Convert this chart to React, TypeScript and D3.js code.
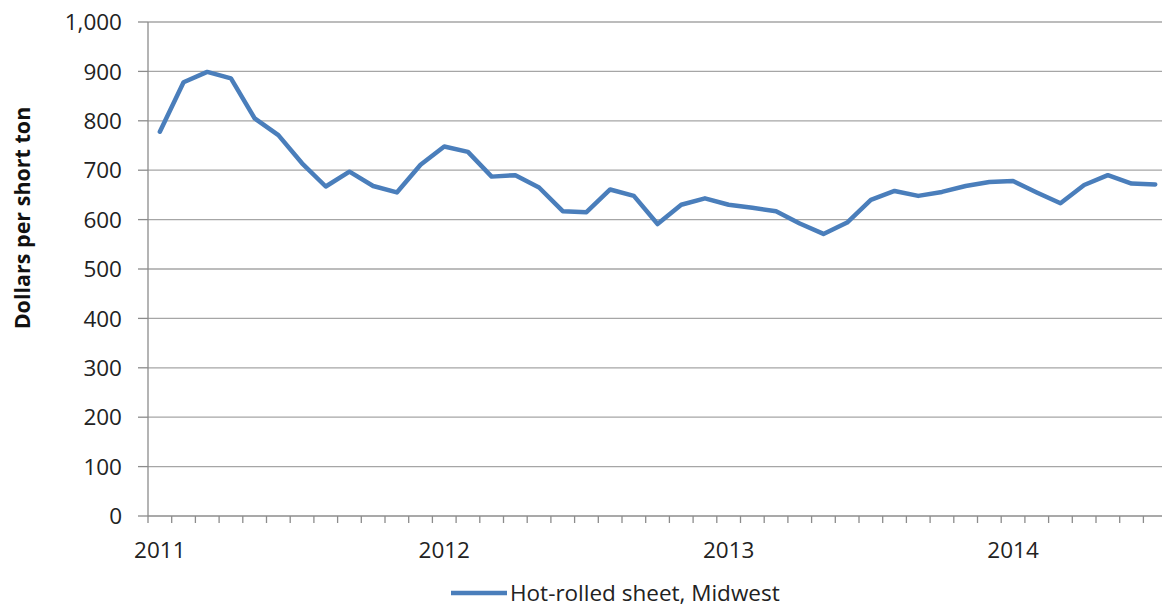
import React from "react";
import * as d3 from "d3";

const months: string[] = [
  "2011-01","2011-02","2011-03","2011-04","2011-05","2011-06","2011-07","2011-08","2011-09","2011-10","2011-11","2011-12",
  "2012-01","2012-02","2012-03","2012-04","2012-05","2012-06","2012-07","2012-08","2012-09","2012-10","2012-11","2012-12",
  "2013-01","2013-02","2013-03","2013-04","2013-05","2013-06","2013-07","2013-08","2013-09","2013-10","2013-11","2013-12",
  "2014-01","2014-02","2014-03","2014-04","2014-05","2014-06","2014-07",
];

const hotRolled: number[] = [
  778, 878, 899, 886, 805, 771, 714, 667, 697, 668, 655, 711,
  748, 737, 687, 690, 665, 617, 615, 661, 648, 591, 630, 643,
  630, 624, 617, 592, 571, 594, 640, 658, 648, 656, 668, 676,
  678, 655, 633, 670, 690, 673, 671,
];

const yTicks: number[] = [0, 100, 200, 300, 400, 500, 600, 700, 800, 900, 1000];
const yearLabels: string[] = ["2011", "2012", "2013", "2014"];

const W = 1162;
const H = 608;
const left = 148;
const top = 22;
const bottom = 516;
const step = 23.7;
const FONT = "'Open Sans', 'Noto Sans', sans-serif";

export default function App() {
  const x = d3
    .scaleBand<string>()
    .domain(months)
    .range([left, left + step * months.length])
    .paddingInner(0)
    .paddingOuter(0);
  const y = d3.scaleLinear().domain([0, 1000]).range([bottom, top]);
  const cx = (m: string) => (x(m) as number) + x.bandwidth() / 2;

  const line = d3
    .line<number>()
    .x((_, i) => cx(months[i]))
    .y((d) => y(d));

  const axisColor = "#8c8c8c";
  const gridColor = "#a6a6a6";
  const blue = "#4a7ebb";
  const fs = 22.5;

  return (
    <svg
      width={W}
      height={H}
      style={{ position: "absolute", left: 0, top: 0, background: "#fff" }}
      fontFamily={FONT}
    >
      {/* gridlines */}
      {yTicks.slice(1).map((t) => (
        <line key={"g" + t} x1={left} x2={W} y1={y(t)} y2={y(t)} stroke={gridColor} strokeWidth={1.3} />
      ))}
      {/* y axis */}
      <line x1={left} x2={left} y1={top} y2={bottom} stroke={axisColor} strokeWidth={1.3} />
      {yTicks.map((t) => (
        <g key={"yt" + t}>
          <line x1={left - 10} x2={left} y1={y(t)} y2={y(t)} stroke={axisColor} strokeWidth={1.3} />
          <text x={122} y={y(t)} dy="0.36em" textAnchor="end" fontSize={fs} fill="#222">
            {d3.format(",")(t)}
          </text>
        </g>
      ))}
      {/* x axis */}
      <line x1={left} x2={W} y1={bottom} y2={bottom} stroke={axisColor} strokeWidth={1.3} />
      {months.map((m) => (
        <line
          key={"xt" + m}
          x1={x(m) as number}
          x2={x(m) as number}
          y1={bottom}
          y2={bottom + 7}
          stroke={axisColor}
          strokeWidth={1.3}
        />
      ))}
      {yearLabels.map((yr) => (
        <text key={yr} x={cx(yr + "-01")} y={558} textAnchor="middle" fontSize={fs} fill="#222">
          {yr}
        </text>
      ))}
      {/* y title */}
      <text
        transform={`translate(30, 218) rotate(-90)`}
        textAnchor="middle"
        fontSize={21.5}
        fontWeight="bold"
        fill="#111"
      >
        Dollars per short ton
      </text>
      {/* series */}
      <path d={line(hotRolled) as string} fill="none" stroke={blue} strokeWidth={4.5} strokeLinejoin="round" strokeLinecap="round" />
      {/* legend */}
      <line x1={451} x2={507} y1={593} y2={593} stroke={blue} strokeWidth={4.5} />
      <text x={510} y={601} fontSize={fs} fill="#222">
        Hot-rolled sheet, Midwest
      </text>
    </svg>
  );
}
